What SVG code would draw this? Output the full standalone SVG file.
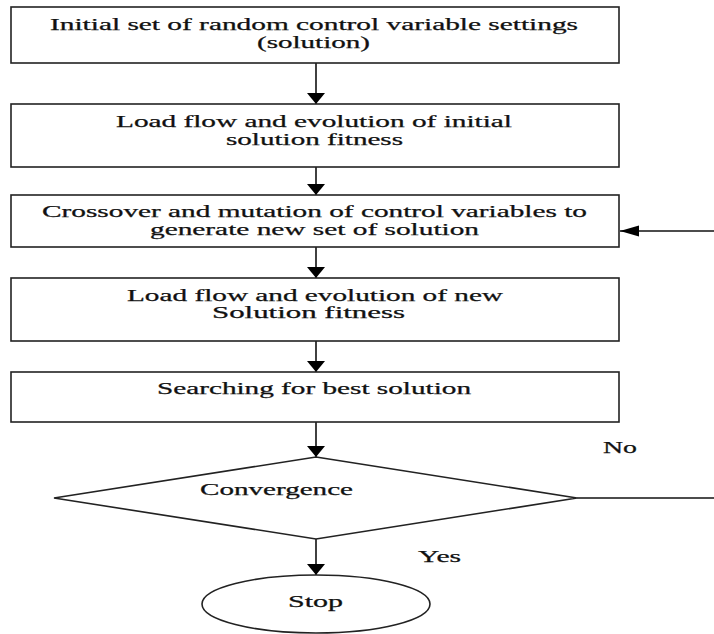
<svg xmlns="http://www.w3.org/2000/svg" width="714" height="634" viewBox="0 0 714 634">
<defs>
<marker id="av" markerUnits="userSpaceOnUse" markerWidth="12" markerHeight="20" refX="11" refY="9" orient="auto"><path d="M0,0 L11,9 L0,18 z" fill="#000"/></marker>
<marker id="ah" markerUnits="userSpaceOnUse" markerWidth="20" markerHeight="12" refX="19" refY="5.5" orient="auto"><path d="M0,0 L19,5.5 L0,11 z" fill="#000"/></marker>
<style>
.box{fill:#fff;stroke:#222;stroke-width:1.6}
.t{font-family:'Liberation Serif','Times New Roman',serif;font-size:16px;fill:#111;stroke:#111;stroke-width:0.25}
.c{stroke:#111;stroke-width:1.6;fill:none}
</style>
</defs>
<rect width="714" height="634" fill="#fff"/>
<g id="connectors">
<line class="c" x1="316" y1="63" x2="316" y2="104" marker-end="url(#av)"/>
<line class="c" x1="316" y1="167" x2="316" y2="195" marker-end="url(#av)"/>
<line class="c" x1="316" y1="247" x2="316" y2="278" marker-end="url(#av)"/>
<line class="c" x1="316" y1="341" x2="316" y2="372" marker-end="url(#av)"/>
<line class="c" x1="316" y1="422" x2="316" y2="457" marker-end="url(#av)"/>
<line class="c" x1="316" y1="539" x2="316" y2="575" marker-end="url(#av)"/>
<line class="c" x1="577" y1="498" x2="714" y2="498"/>
<line class="c" x1="714" y1="231" x2="620" y2="231" marker-end="url(#ah)"/>
<text class="t" x="603" y="453" textLength="34" lengthAdjust="spacingAndGlyphs">No</text>
<text class="t" x="418" y="562" textLength="43" lengthAdjust="spacingAndGlyphs">Yes</text>
</g>
<g id="n1">
<rect class="box" x="11" y="7" width="608" height="56"/>
<text class="t" x="50" y="30" textLength="528" lengthAdjust="spacingAndGlyphs">Initial set of random control variable settings</text>
<text class="t" x="257" y="48" textLength="113" lengthAdjust="spacingAndGlyphs">(solution)</text>
</g>
<g id="n2">
<rect class="box" x="11" y="104" width="608" height="63"/>
<text class="t" x="116" y="127" textLength="396" lengthAdjust="spacingAndGlyphs">Load flow and evolution of initial</text>
<text class="t" x="226" y="145" textLength="177" lengthAdjust="spacingAndGlyphs">solution fitness</text>
</g>
<g id="n3">
<rect class="box" x="11" y="195" width="608" height="52"/>
<text class="t" x="42" y="217" textLength="545" lengthAdjust="spacingAndGlyphs">Crossover and mutation of control variables to</text>
<text class="t" x="150" y="235" textLength="329" lengthAdjust="spacingAndGlyphs">generate new set of solution</text>
</g>
<g id="n4">
<rect class="box" x="11" y="278" width="608" height="63"/>
<text class="t" x="127" y="301" textLength="376" lengthAdjust="spacingAndGlyphs">Load flow and evolution of new</text>
<text class="t" x="212" y="318" textLength="193" lengthAdjust="spacingAndGlyphs">Solution fitness</text>
</g>
<g id="n5">
<rect class="box" x="11" y="372" width="608" height="50"/>
<text class="t" x="157" y="394" textLength="314" lengthAdjust="spacingAndGlyphs">Searching for best solution</text>
</g>
<g id="n6">
<polygon class="box" points="316,457 577,498 316,539 54,498"/>
<text class="t" x="200" y="495" textLength="153" lengthAdjust="spacingAndGlyphs">Convergence</text>
</g>
<g id="n7">
<ellipse class="box" cx="316" cy="604" rx="114" ry="29"/>
<text class="t" x="288" y="607" textLength="55" lengthAdjust="spacingAndGlyphs">Stop</text>
</g>
</svg>
